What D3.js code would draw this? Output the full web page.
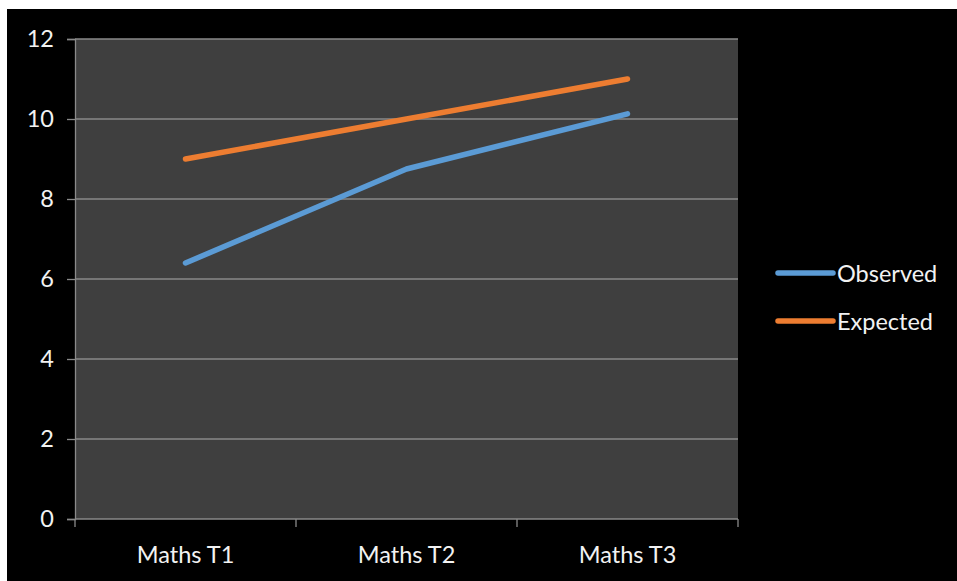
<!DOCTYPE html>
<html>
<head>
<meta charset="utf-8">
<script src="https://cdn.jsdelivr.net/npm/d3@7/dist/d3.min.js"></script>
<style>
  html, body { margin: 0; padding: 0; background: #ffffff; }
  svg { display: block; }
  text { font-family: Lato, "Open Sans", sans-serif; fill: #f2f2f2; }
</style>
</head>
<body>
<svg id="chart" width="957" height="581"></svg>
<script>
// Test scores per term
const categories = ["Maths T1", "Maths T2", "Maths T3"];
const observed = [6.4, 8.75, 10.13];
const expected = [9, 10, 11];
const yTicks = [0, 2, 4, 6, 8, 10, 12];
const seriesNames = ["Observed", "Expected"];
const seriesColors = ["#5b9bd5", "#ed7d31"];

const svg = d3.select("#chart");
const fontSize = 23.5;

// black chart canvas inside a thin white frame
svg.append("rect")
  .attr("x", 7).attr("y", 9)
  .attr("width", 950).attr("height", 572)
  .attr("fill", "#000000");

const plot = { left: 75, right: 738, top: 39, bottom: 519 };

const x = d3.scaleBand()
  .domain(categories)
  .range([plot.left, plot.right])
  .paddingInner(0).paddingOuter(0);

const y = d3.scaleLinear()
  .domain([0, 12])
  .range([plot.bottom, plot.top]);

// plot area background
svg.append("rect")
  .attr("x", plot.left).attr("y", plot.top)
  .attr("width", plot.right - plot.left)
  .attr("height", plot.bottom - plot.top)
  .attr("fill", "#3f3f3f");

// horizontal gridlines
svg.append("g")
  .selectAll("line")
  .data(yTicks.filter(d => d > 0))
  .join("line")
  .attr("x1", plot.left).attr("x2", plot.right)
  .attr("y1", d => y(d)).attr("y2", d => y(d))
  .attr("stroke", "#8a8a8a")
  .attr("stroke-width", 1.3);

// y axis
const yAxis = svg.append("g")
  .attr("transform", `translate(${plot.left},0)`)
  .call(d3.axisLeft(y).tickValues(yTicks).tickSize(8).tickPadding(13).tickFormat(d3.format("d")));
yAxis.select(".domain").attr("stroke", "#8a8a8a").attr("stroke-width", 1.3);
yAxis.selectAll(".tick line").attr("stroke", "#8a8a8a").attr("stroke-width", 1.3);
yAxis.selectAll(".tick text")
  .attr("font-size", fontSize)
  .attr("font-family", "Lato, 'Open Sans', sans-serif")
  .attr("fill", "#f2f2f2");

// x axis with ticks at category boundaries
const xAxisG = svg.append("g")
  .attr("transform", `translate(0,${plot.bottom})`);
xAxisG.append("line")
  .attr("x1", plot.left).attr("x2", plot.right)
  .attr("y1", 0).attr("y2", 0)
  .attr("stroke", "#8a8a8a").attr("stroke-width", 1.3);
const boundaries = categories.map(c => x(c)).concat([x(categories[categories.length - 1]) + x.bandwidth()]);
xAxisG.selectAll("line.tk")
  .data(boundaries)
  .join("line")
  .attr("class", "tk")
  .attr("x1", d => d).attr("x2", d => d)
  .attr("y1", 0).attr("y2", 8)
  .attr("stroke", "#8a8a8a").attr("stroke-width", 1.3);
xAxisG.selectAll("text")
  .data(categories)
  .join("text")
  .attr("x", d => x(d) + x.bandwidth() / 2)
  .attr("y", 44)
  .attr("text-anchor", "middle")
  .attr("font-size", fontSize)
  .text(d => d);

// series lines
const line = d3.line()
  .x((d, i) => x(categories[i]) + x.bandwidth() / 2)
  .y(d => y(d));

[observed, expected].forEach((vals, k) => {
  svg.append("path")
    .datum(vals)
    .attr("d", line)
    .attr("fill", "none")
    .attr("stroke", seriesColors[k])
    .attr("stroke-width", 5.5)
    .attr("stroke-linecap", "round")
    .attr("stroke-linejoin", "round");
});

// legend
const legend = svg.append("g").attr("transform", "translate(778,273)");
seriesNames.forEach((name, i) => {
  const g = legend.append("g").attr("transform", `translate(0,${i * 48})`);
  g.append("line")
    .attr("x1", 0).attr("x2", 55)
    .attr("y1", 0).attr("y2", 0)
    .attr("stroke", seriesColors[i])
    .attr("stroke-width", 5.5)
    .attr("stroke-linecap", "round");
  g.append("text")
    .attr("x", 59).attr("y", 8.5)
    .attr("font-size", fontSize)
    .text(name);
});
</script>
</body>
</html>
